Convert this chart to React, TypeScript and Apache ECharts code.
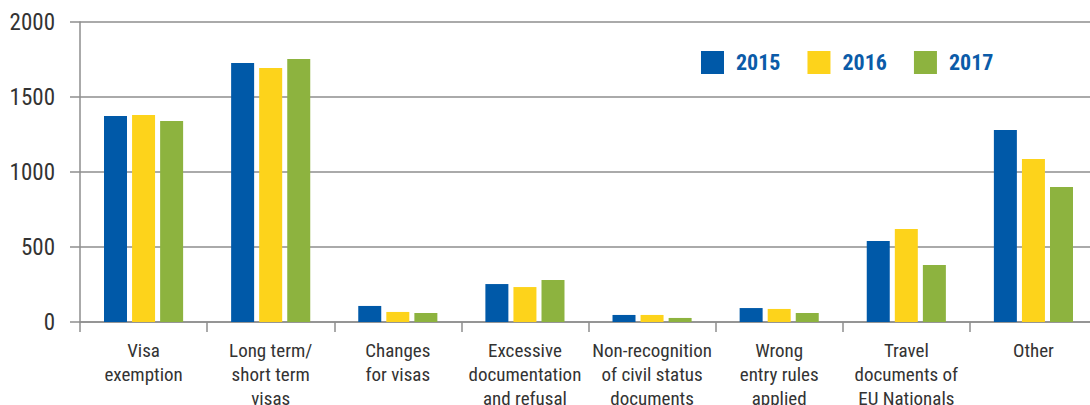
import React, { useEffect, useRef } from "react";
import * as echarts from "echarts";

const categories = [
  "Visa\nexemption",
  "Long term/\nshort term\nvisas",
  "Changes\nfor visas",
  "Excessive\ndocumentation\nand refusal",
  "Non-recognition\nof civil status\ndocuments",
  "Wrong\nentry rules\napplied",
  "Travel\ndocuments of\nEU Nationals",
  "Other",
];
const seriesNames = ["2015", "2016", "2017"];
const values2015 = [1373, 1727, 107, 253, 47, 93, 540, 1280];
const values2016 = [1380, 1693, 67, 233, 47, 87, 620, 1087];
const values2017 = [1340, 1753, 60, 280, 27, 60, 380, 900];
const yTicks = [0, 500, 1000, 1500, 2000];

const colors = ["#0059a8", "#fdd31b", "#8db33f"];
const LINE = "#8e8e8e";
const FONT = "'Liberation Sans Narrow', 'Arial Narrow', 'Roboto Condensed', 'Liberation Sans', sans-serif";

export default function App() {
  const ref = useRef<HTMLDivElement>(null);
  useEffect(() => {
    if (!ref.current) return;
    const chart = echarts.init(ref.current, undefined, { renderer: "svg", width: 1097, height: 405 });
    const data = [values2015, values2016, values2017];
    chart.setOption({
      animation: false,
      color: colors,
      grid: { left: 80, top: 22, bottom: 83, right: 0, containLabel: false, outerBoundsMode: "none" },
      legend: {
        left: 701,
        top: 51,
        padding: 0,
        itemWidth: 23,
        itemHeight: 23,
        itemGap: 27,
        icon: "rect",
        data: seriesNames,
        textStyle: {
          fontFamily: FONT,
          fontSize: 22,
          fontWeight: "bold",
          color: "#0b5ba8",
          padding: [0, 0, 0, 7],
        },
      },
      xAxis: {
        type: "category",
        data: categories,
        axisLine: { show: true, lineStyle: { color: LINE, width: 1.5 } },
        axisTick: { show: true, length: 10, alignWithLabel: false, lineStyle: { color: LINE, width: 1.5 } },
        axisLabel: {
          interval: 0,
          fontFamily: FONT,
          fontSize: 19,
          lineHeight: 24,
          color: "#333",
          margin: 16,
        },
      },
      yAxis: {
        type: "value",
        min: yTicks[0],
        max: yTicks[yTicks.length - 1],
        interval: 500,
        axisLine: { show: true, lineStyle: { color: LINE, width: 1.5 } },
        axisTick: { show: true, length: 10, lineStyle: { color: LINE, width: 1.5 } },
        splitLine: { show: true, lineStyle: { color: LINE, width: 1.5 } },
        axisLabel: {
          fontFamily: FONT,
          fontSize: 23,
          color: "#333",
          margin: 25,
          formatter: (v: number) => String(v),
        },
      },
      series: seriesNames.map((name, i) => ({
        name,
        type: "bar",
        data: data[i],
        barWidth: 23,
        barGap: "22%",
        itemStyle: { color: colors[i] },
      })),
    });
    return () => chart.dispose();
  }, []);
  return (
    <div style={{ position: "absolute", left: 0, top: 0, width: 1090, height: 405, overflow: "hidden", background: "#fff" }}>
      <div ref={ref} style={{ width: 1097, height: 405 }} />
    </div>
  );
}
